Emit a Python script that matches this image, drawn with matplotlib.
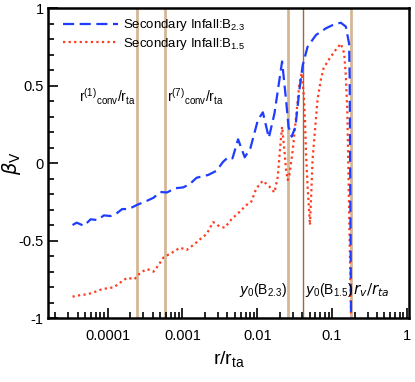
import matplotlib
matplotlib.use("Agg")
import matplotlib.pyplot as plt
from matplotlib.ticker import FixedLocator, MultipleLocator, LogLocator, NullFormatter

plt.rcParams['font.family'] = ['Liberation Sans', 'DejaVu Sans']
plt.rcParams['mathtext.default'] = 'regular'

# Secondary infall B_2.3 (blue dashed)
r_b23 = [3.40e-5, 3.87e-5, 4.84e-5, 5.94e-5, 7.29e-5, 8.93e-5, 1.10e-4, 1.28e-4,
         1.57e-4, 1.92e-4, 2.48e-4, 3.53e-4, 4.12e-4, 5.06e-4, 6.21e-4, 8.00e-4,
         1.03e-3, 1.26e-3, 1.55e-3, 2.21e-3, 2.86e-3, 3.50e-3, 4.08e-3, 4.67e-3,
         5.55e-3, 6.81e-3, 8.10e-3, 1.02e-2, 1.19e-2, 1.43e-2, 1.70e-2, 2.15e-2,
         2.43e-2, 2.62e-2, 2.89e-2, 3.24e-2, 3.66e-2, 4.05e-2, 4.71e-2, 6.10e-2,
         8.27e-2, 0.107, 0.131, 0.153, 0.169, 0.172, 0.1795]
beta_b23 = [-0.40, -0.385, -0.405, -0.363, -0.368, -0.338, -0.342, -0.33,
            -0.297, -0.297, -0.27, -0.239, -0.224, -0.187, -0.19, -0.163,
            -0.157, -0.135, -0.095, -0.077, -0.05, 0.008, 0.037, 0.03,
            0.153, 0.037, 0.095, 0.277, 0.327, 0.163, 0.32, 0.655,
            0.406, 0.234, 0.17, 0.234, 0.47, 0.63, 0.75, 0.826,
            0.869, 0.895, 0.905, 0.88, 0.77, 0.55, -1.0]

# Secondary infall B_1.5 (red dotted)
r_b15 = [3.40e-5, 4.37e-5, 5.37e-5, 6.58e-5, 8.51e-5, 1.21e-4, 1.49e-4, 1.83e-4,
         2.28e-4, 2.74e-4, 3.37e-4, 4.12e-4, 4.80e-4, 5.60e-4, 7.23e-4, 9.32e-4,
         1.14e-3, 1.40e-3, 1.72e-3, 2.11e-3, 2.58e-3, 3.17e-3, 3.69e-3, 4.53e-3,
         5.84e-3, 7.17e-3, 8.35e-3, 9.73e-3, 1.19e-2, 1.46e-2, 1.70e-2, 1.88e-2,
         2.05e-2, 2.15e-2, 2.31e-2, 2.43e-2, 2.56e-2, 2.69e-2, 2.98e-2, 3.31e-2,
         3.66e-2, 3.93e-2, 4.17e-2, 4.35e-2, 4.49e-2, 4.71e-2, 4.96e-2, 5.07e-2,
         5.32e-2, 5.49e-2, 5.91e-2, 6.40e-2, 7.10e-2, 7.69e-2, 8.69e-2, 0.107,
         0.131, 0.145, 0.153, 0.160, 0.1795]
beta_b15 = [-0.862, -0.852, -0.847, -0.834, -0.813, -0.802, -0.77, -0.74,
            -0.75, -0.708, -0.684, -0.701, -0.658, -0.609, -0.579, -0.546,
            -0.561, -0.529, -0.492, -0.458, -0.381, -0.411, -0.417, -0.363,
            -0.314, -0.271, -0.249, -0.164, -0.114, -0.153, -0.19, -0.09,
            0.13, 0.234, 0.08, -0.045, -0.11, -0.077, 0.08, 0.30,
            0.51, 0.58, 0.45, 0.28, 0.06, -0.15, -0.32, -0.40,
            -0.15, 0.02, 0.21, 0.41, 0.54, 0.61, 0.654, 0.718,
            0.77, 0.71, 0.56, 0.34, -1.0]

# reference radii
r_conv = [2.5e-4, 5.8e-4]
y0_b23 = 0.0259
y0_b15 = 0.041
r_v = 0.179

fig = plt.figure(figsize=(4.15, 3.82), dpi=100)
ax = fig.add_axes([0.1157, 0.1675, 0.87, 0.8115])

tan = '#d4b896'
for r in r_conv + [y0_b23, r_v]:
    ax.axvline(r, color=tan, lw=2.0, zorder=1)
ax.axvline(y0_b15, color='#9a6a3a', lw=1.0, zorder=1)

ax.plot(r_b23, beta_b23, color='#1f3dff', ls=(0, (5, 2.5)), lw=1.6,
        label='Secondary Infall:B$_{2.3}$', zorder=3)
ax.plot(r_b15, beta_b15, color='#ff3b1e', ls=(0, (1, 1.5)), lw=1.6,
        label='Secondary Infall:B$_{1.5}$', zorder=2)

ax.set_xscale('log')
ax.set_xlim(1.6e-5, 1.07)
ax.set_ylim(-1, 1)

ax.xaxis.set_major_locator(FixedLocator([1e-4, 1e-3, 1e-2, 1e-1, 1]))
ax.set_xticklabels(['0.0001', '0.001', '0.01', '0.1', '1'])
ax.xaxis.set_minor_locator(LogLocator(base=10, subs=range(2, 10), numticks=20))
ax.xaxis.set_minor_formatter(NullFormatter())
ax.yaxis.set_major_locator(FixedLocator([-1, -0.5, 0, 0.5, 1]))
ax.set_yticklabels(['-1', '-0.5', '0', '0.5', '1'])
ax.yaxis.set_minor_locator(MultipleLocator(0.1))

ax.tick_params(which='both', direction='in', top=False, right=False, labelsize=10.5, width=1.2)
ax.tick_params(which='major', length=7)
ax.tick_params(which='minor', length=4)
ax.tick_params(axis='x', pad=8)
ax.tick_params(axis='y', pad=3)
for s in ax.spines.values():
    s.set_linewidth(1.8)

ax.set_xlabel('r/r$_{ta}$', fontsize=14)
ax.xaxis.set_label_coords(0.5, -0.10)
ax.set_ylabel(r'$\mathit{\beta}_\mathrm{V}$', fontsize=14)
ax.yaxis.set_label_coords(-0.07, 0.5)

ax.legend(loc='upper left', frameon=False, fontsize=9.5, handlelength=4.2,
          handletextpad=0.4, labelspacing=0.2, borderaxespad=0.3,
          bbox_to_anchor=(0.015, 1.0))

ax.text(2.4e-4, 0.43, 'r$^{(1)}$$_{conv}$/r$_{ta}$', ha='right', va='center', fontsize=10)
ax.text(6.3e-4, 0.43, 'r$^{(7)}$$_{conv}$/r$_{ta}$', ha='left', va='center', fontsize=10)
ax.text(0.0252, -0.82, '$\\mathit{y}_0$(B$_{2.3}$)', ha='right', va='center', fontsize=10)
ax.text(0.0432, -0.82, '$\\mathit{y}_0$(B$_{1.5}$)', ha='left', va='center', fontsize=10)
ax.text(0.19, -0.82, '$\\mathit{r_v}/\\mathit{r_{ta}}$', ha='left', va='center',
        fontsize=11, family='DejaVu Serif')

fig.savefig('out.png', dpi=100)
